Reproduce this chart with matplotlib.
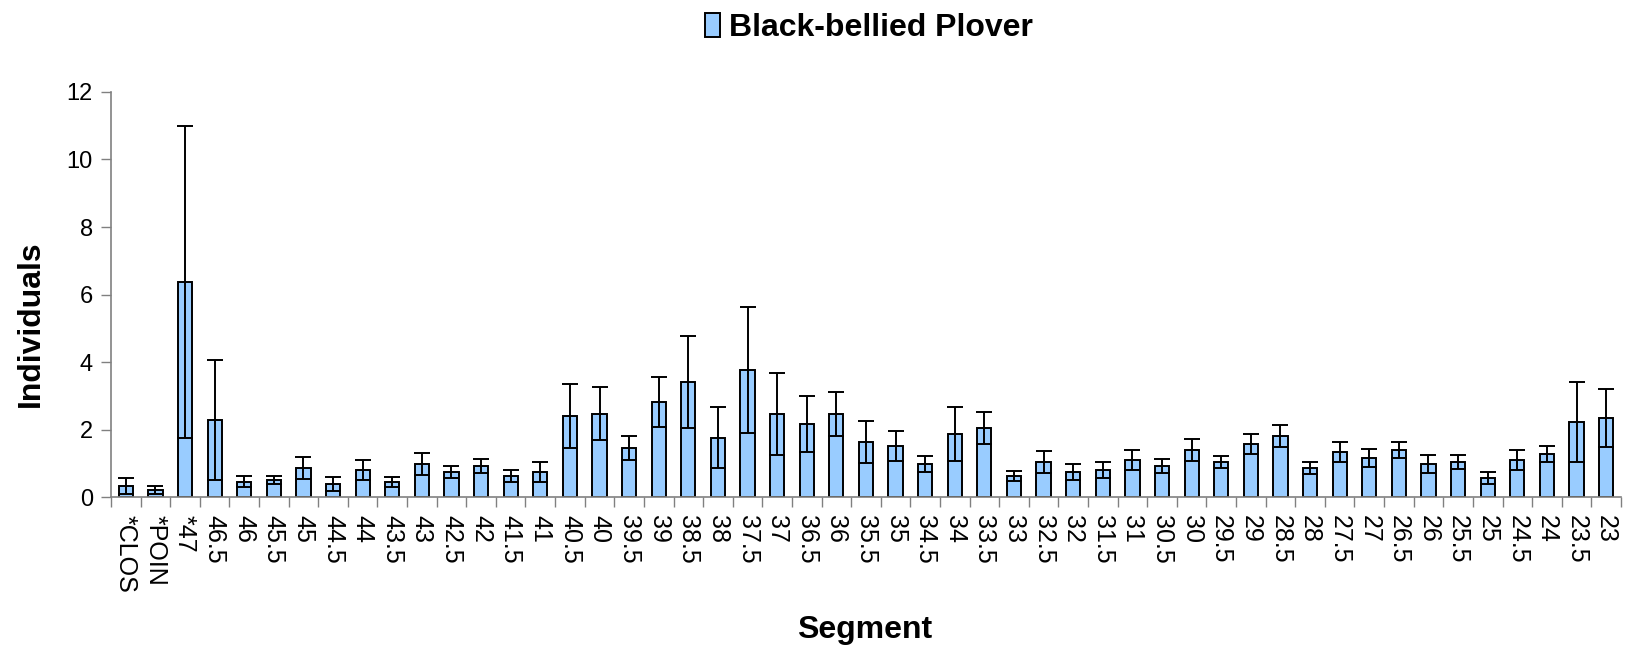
import numpy as np
import matplotlib
matplotlib.use("Agg")
import matplotlib.pyplot as plt

plt.rcParams['font.family'] = ['Liberation Sans', 'DejaVu Sans']

segments = ['*CLOS', '*POIN', '*47', '46.5', '46', '45.5', '45', '44.5', '44', '43.5',
            '43', '42.5', '42', '41.5', '41', '40.5', '40', '39.5', '39', '38.5',
            '38', '37.5', '37', '36.5', '36', '35.5', '35', '34.5', '34', '33.5',
            '33', '32.5', '32', '31.5', '31', '30.5', '30', '29.5', '29', '28.5',
            '28', '27.5', '27', '26.5', '26', '25.5', '25', '24.5', '24', '23.5', '23']

individuals = [0.33, 0.21, 6.37, 2.29, 0.46, 0.52, 0.87, 0.40, 0.81, 0.46,
               0.99, 0.75, 0.93, 0.63, 0.75, 2.40, 2.47, 1.45, 2.83, 3.42,
               1.76, 3.77, 2.47, 2.17, 2.47, 1.64, 1.52, 0.99, 1.88, 2.06,
               0.63, 1.05, 0.75, 0.81, 1.11, 0.93, 1.40, 1.05, 1.58, 1.82,
               0.87, 1.35, 1.17, 1.40, 0.99, 1.05, 0.57, 1.11, 1.29, 2.23, 2.35]

error = [0.24, 0.12, 4.62, 1.77, 0.17, 0.12, 0.32, 0.20, 0.30, 0.15,
         0.32, 0.18, 0.20, 0.17, 0.30, 0.95, 0.78, 0.36, 0.74, 1.36,
         0.90, 1.86, 1.22, 0.84, 0.65, 0.62, 0.44, 0.24, 0.80, 0.47,
         0.14, 0.33, 0.24, 0.24, 0.30, 0.20, 0.33, 0.18, 0.30, 0.32,
         0.18, 0.30, 0.27, 0.24, 0.27, 0.20, 0.17, 0.30, 0.24, 1.19, 0.86]

fig = plt.figure(figsize=(16.25, 6.47), dpi=100)
ax = fig.add_axes([0.0683, 0.2314, 0.9292, 0.6266])

x = np.arange(len(segments))
bars = ax.bar(x, individuals, width=0.48, color='#99CCFF', edgecolor='black',
              linewidth=1.4, label='Black-bellied Plover', zorder=2)
ax.errorbar(x, individuals, yerr=error, fmt='none', ecolor='black',
            elinewidth=1.4, capsize=5.6, capthick=1.4, zorder=3)

ax.set_xlim(-0.5, len(segments) - 0.5)
ax.set_ylim(0, 12)
ax.set_yticks(np.arange(0, 13, 2))
ax.set_xticks(x)
ax.set_xticklabels(segments, rotation=-90, fontsize=18)
ax.set_xticks(np.arange(-0.5, len(segments), 1), minor=True)
ax.tick_params(axis='x', which='major', length=0, pad=13)
ax.tick_params(axis='x', which='minor', length=7, width=1, color='#808080', direction='out')
ax.tick_params(axis='y', labelsize=17, length=7, width=1, color='#808080', direction='out', pad=6)

for side in ['top', 'right']:
    ax.spines[side].set_visible(False)
for side in ['left', 'bottom']:
    ax.spines[side].set_color('#808080')
    ax.spines[side].set_linewidth(1.2)

fig.text(0.019, 0.5, 'Individuals', rotation=90, ha='center', va='center',
         fontsize=23, fontweight='bold')
fig.text(0.532, 0.026, 'Segment', ha='center', va='center',
         fontsize=23, fontweight='bold')

fig.legend(handles=[bars], loc='center', bbox_to_anchor=(0.535, 0.957),
           frameon=False, prop={'size': 23, 'weight': 'bold'},
           handlelength=0.45, handleheight=0.8, handletextpad=0.3)

fig.savefig('out.png', dpi=100)
